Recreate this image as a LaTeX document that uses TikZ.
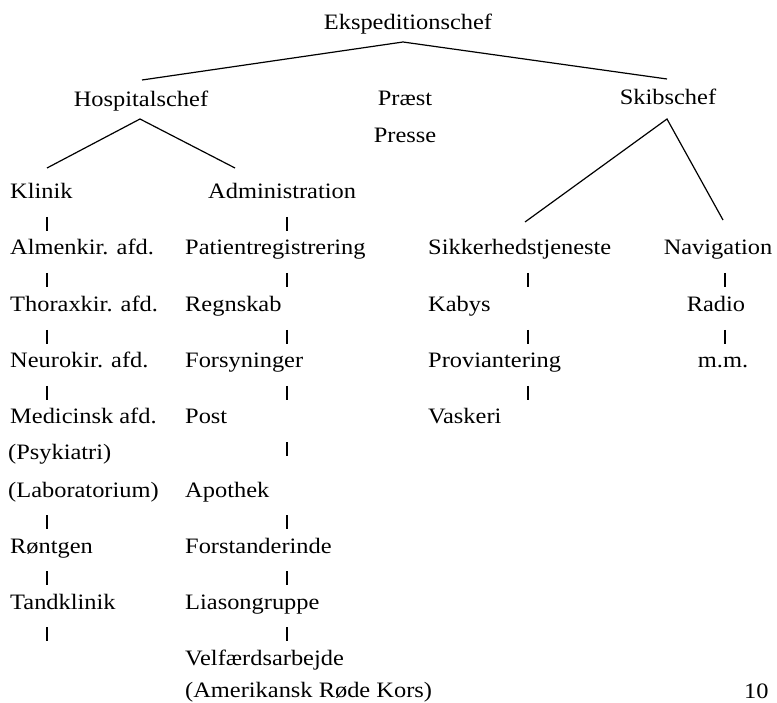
\documentclass[tikz,border=0pt]{standalone}
\usepackage{fontspec}
\setmainfont[FakeStretch=1.11]{Liberation Serif}
\usetikzlibrary{calc}
\begin{document}
\begin{tikzpicture}[x=1pt,y=1pt,
  lbl/.style={inner sep=0pt, font=\fontsize{22}{26}\selectfont},
  lw/.style={anchor=base west, lbl},
  lc/.style={anchor=base, lbl},
  link/.style={line width=1.2pt, black}]
\useasboundingbox (0,0) rectangle (777,-703);
% column x positions for vertical ticks
\coordinate (cL) at (47,0);
\coordinate (cA) at (287,0);
\coordinate (cS) at (528,0);
\coordinate (cN) at (725,0);
% top levels
\node[lc] (ek) at (408,-30) {Ekspeditionschef};
\node[lc] (hosp) at (141,-107) {Hospitalschef};
\node[lc] (praest) at (405,-106) {Præst};
\node[lc] (presse) at (405,-143) {Presse};
\node[lc] (skib) at (668,-105) {Skibschef};
% Klinik column
\node[lw] (kl) at (10,-199) {Klinik};
\node[lw] (alm) at (10,-255) {Almenkir. afd.};
\node[lw] (tho) at (10,-312) {Thoraxkir. afd.};
\node[lw] (neu) at (10,-368) {Neurokir. afd.};
\node[lw] (med) at (10,-424) {Medicinsk afd.};
\node[lw] (psy) at (8,-460) {(Psykiatri)};
\node[lw] (lab) at (8,-497) {(Laboratorium)};
\node[lw] (ron) at (10,-553) {Røntgen};
\node[lw] (tand) at (10,-609) {Tandklinik};
% Administration column
\node[lw] (adm) at (208,-199) {Administration};
\node[lw] (pat) at (185,-255) {Patientregistrering};
\node[lw] (reg) at (185,-312) {Regnskab};
\node[lw] (fors) at (185,-368) {Forsyninger};
\node[lw] (post) at (185,-424) {Post};
\node[lw] (apo) at (185,-497) {Apothek};
\node[lw] (fst) at (185,-553) {Forstanderinde};
\node[lw] (lia) at (185,-609) {Liasongruppe};
\node[lw] (vel) at (185,-665) {Velfærdsarbejde};
\node[lw] (ark) at (185,-697) {(Amerikansk Røde Kors)};
% Skibschef side
\node[lw] (sik) at (428,-255) {Sikkerhedstjeneste};
\node[lw] (kab) at (428,-312) {Kabys};
\node[lw] (prov) at (428,-368) {Proviantering};
\node[lw] (vask) at (428,-424) {Vaskeri};
\node[lc] (nav) at (718,-255) {Navigation};
\node[lc] (rad) at (716,-312) {Radio};
\node[lc] (mm) at (723,-368) {m.m.};
% page number
\node[anchor=base west, lbl] (pg) at (744,-698) {10};
% tree lines
\draw[link] ($(hosp.base)+(1,27)$) -- ($(ek.base)+(-5,-12)$) -- ($(skib.base)+(-1,26)$);
\draw[link] ($(kl.base west)+(37,31)$) -- ($(hosp.base)+(-1,-12)$) -- ($(adm.base west)+(27,31)$);
\draw[link] ($(sik.base west)+(97,33)$) -- ($(skib.base)+(-1,-14)$) -- ($(nav.base)+(5,35)$);
% vertical ticks
\foreach \n in {kl,alm,tho,neu,lab,ron,tand}
  \draw[link] ($(\n.base -| cL)+(0,-18)$) -- ++(0,-14);
\foreach \n in {adm,pat,reg,fors,post,apo,fst,lia}
  \draw[link] ($(\n.base -| cA)+(0,-18)$) -- ++(0,-14);
\foreach \n in {sik,kab,prov}
  \draw[link] ($(\n.base -| cS)+(0,-18)$) -- ++(0,-14);
\foreach \n in {nav,rad}
  \draw[link] ($(\n.base -| cN)+(0,-18)$) -- ++(0,-14);
\end{tikzpicture}
\end{document}
